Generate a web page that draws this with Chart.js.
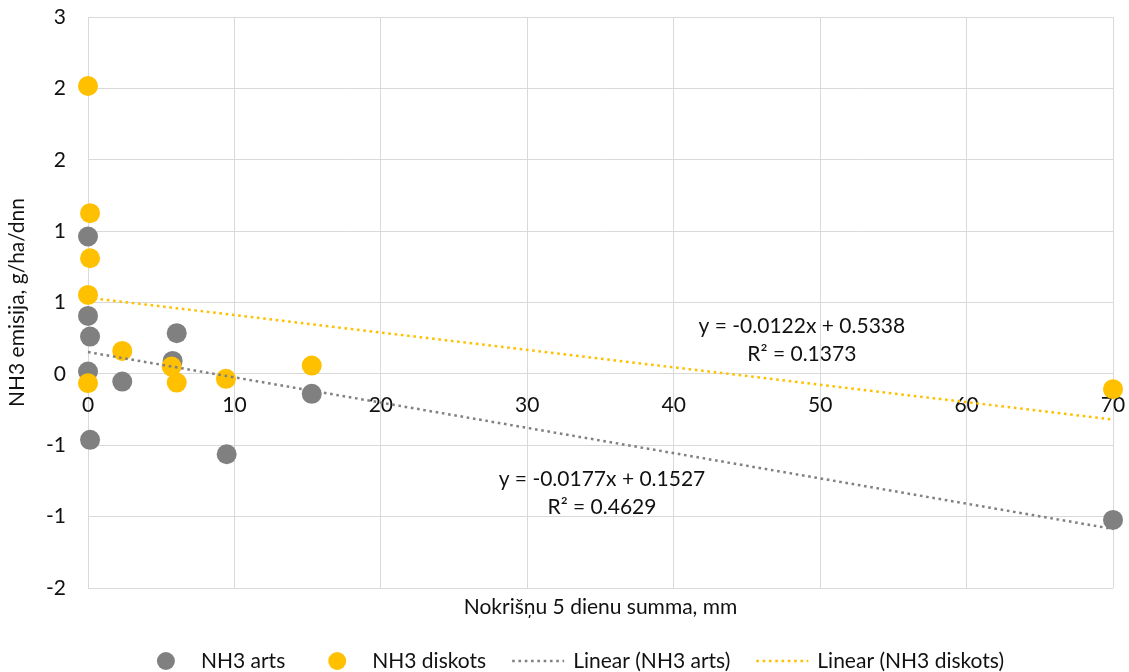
<!DOCTYPE html>
<html>
<head>
<meta charset="utf-8">
<script src="https://cdn.jsdelivr.net/npm/chart.js@4"></script>
<style>
  html, body { margin: 0; padding: 0; background: #ffffff; }
  #wrap { width: 1129px; height: 672px; }
</style>
</head>
<body>
<div id="wrap"><canvas id="chart" width="1129" height="672"></canvas></div>
<script>
// Precipitation over 5 days (mm) and NH3 emission (g/ha/day)
const seriesNames = ['NH3 arts', 'NH3 diskots'];
const artsX = [0, 0, 0.14, 0, 0.14, 2.34, 5.78, 6.06, 9.47, 15.28, 70];
const artsY = [0.962, 0.406, 0.261, 0.016, -0.462, -0.054, 0.091, 0.285, -0.563, -0.14, -1.023];
const diskotsX = [0, 0.14, 0.14, 0, 0, 2.34, 5.71, 6.06, 9.42, 15.28, 70];
const diskotsY = [2.017, 1.126, 0.81, 0.553, -0.065, 0.161, 0.051, -0.061, -0.035, 0.058, -0.107];

// Linear trend lines (slope, intercept, R²)
const trendSlope = [-0.0177, -0.0122];
const trendIntercept = [0.1527, 0.5338];
const trendR2 = ['0.4629', '0.1373'];
const trendRange = [0, 70];

// Axis ticks
const xTicks = [0, 10, 20, 30, 40, 50, 60, 70];
const yTickValues = [-1.5, -1, -0.5, 0, 0.5, 1, 1.5, 2, 2.5];
const yTickLabels = ['-2', '-1', '-1', '0', '1', '1', '2', '2', '3'];

const FONT_FAMILY = 'Lato, "Open Sans", sans-serif';
const FONT_SIZE = 21;
const TEXT_COLOR = '#111111';
const GREY = '#808080';
const GOLD = '#FFC000';
const GRID = '#d9d9d9';

const toPoints = (xs, ys) => xs.map((x, i) => ({ x: x, y: ys[i] }));
const trendPoints = (k) => trendRange.map(x => ({ x: x, y: trendIntercept[k] + trendSlope[k] * x }));
const equationText = (k) => 'y = ' + trendSlope[k] + 'x + ' + trendIntercept[k];

// Equation / R² labels, anchored in data units
const trendLabelPlugin = {
  id: 'trendLabels',
  afterDatasetsDraw(chart) {
    const { ctx, scales } = chart;
    const anchors = [{ x: 35.1, y: -0.834 }, { x: 48.75, y: 0.238 }];
    ctx.save();
    ctx.font = FONT_SIZE + 'px ' + FONT_FAMILY;
    ctx.fillStyle = TEXT_COLOR;
    ctx.textAlign = 'center';
    ctx.textBaseline = 'middle';
    anchors.forEach((a, k) => {
      const px = scales.x.getPixelForValue(a.x);
      const py = scales.y.getPixelForValue(a.y);
      ctx.fillText(equationText(k), px, py - 14);
      ctx.fillText('R² = ' + trendR2[k], px, py + 14);
    });
    ctx.restore();
  }
};

// Legend row along the bottom
const legendPlugin = {
  id: 'bottomLegend',
  afterDraw(chart) {
    const ctx = chart.ctx;
    ctx.save();
    ctx.font = FONT_SIZE + 'px ' + FONT_FAMILY;
    const items = chart.data.datasets.map(ds => ({
      label: ds.label,
      color: ds.showLine ? ds.borderColor : ds.backgroundColor,
      line: !!ds.showLine,
      dash: ds.borderDash || []
    }));
    const box = 52, gap = 9, spacing = 26;
    const widths = items.map(it => box + gap + ctx.measureText(it.label).width);
    const total = widths.reduce((a, b) => a + b, 0) + spacing * (items.length - 1);
    let x = 572 - total / 2;
    const y = 661;
    items.forEach((it, i) => {
      if (it.line) {
        ctx.strokeStyle = it.color;
        ctx.lineWidth = 2.5;
        ctx.setLineDash(it.dash);
        ctx.beginPath();
        ctx.moveTo(x, y);
        ctx.lineTo(x + box, y);
        ctx.stroke();
        ctx.setLineDash([]);
      } else {
        ctx.fillStyle = it.color;
        ctx.beginPath();
        ctx.arc(x + box / 2, y, 9, 0, Math.PI * 2);
        ctx.fill();
      }
      ctx.fillStyle = TEXT_COLOR;
      ctx.textAlign = 'left';
      ctx.textBaseline = 'middle';
      ctx.fillText(it.label, x + box + gap, y);
      x += widths[i] + spacing;
    });
    ctx.restore();
  }
};

const font = { family: FONT_FAMILY, size: FONT_SIZE };

new Chart(document.getElementById('chart'), {
  type: 'scatter',
  data: {
    datasets: [
      {
        label: seriesNames[0],
        data: toPoints(artsX, artsY),
        backgroundColor: GREY,
        borderColor: GREY,
        pointRadius: 10,
        pointBorderWidth: 0,
        order: 2,
        clip: false
      },
      {
        label: seriesNames[1],
        data: toPoints(diskotsX, diskotsY),
        backgroundColor: GOLD,
        borderColor: GOLD,
        pointRadius: 10,
        pointBorderWidth: 0,
        order: 1,
        clip: false
      },
      {
        label: 'Linear (' + seriesNames[0] + ')',
        data: trendPoints(0),
        showLine: true,
        borderColor: GREY,
        borderWidth: 2.5,
        borderDash: [2.6, 3.7],
        pointRadius: 0,
        order: 0,
        clip: false
      },
      {
        label: 'Linear (' + seriesNames[1] + ')',
        data: trendPoints(1),
        showLine: true,
        borderColor: GOLD,
        borderWidth: 2.5,
        borderDash: [2.6, 3.7],
        pointRadius: 0,
        order: 0,
        clip: false
      }
    ]
  },
  options: {
    responsive: false,
    animation: false,
    devicePixelRatio: 1,
    layout: { padding: { top: 17, right: 16, bottom: 44, left: 0 } },
    plugins: {
      legend: { display: false },
      tooltip: { enabled: false }
    },
    scales: {
      x: {
        type: 'linear',
        position: { y: 0 },
        min: 0,
        max: 70,
        afterBuildTicks: (s) => { s.ticks = xTicks.map(v => ({ value: v })); },
        afterFit: (s) => { s.paddingLeft = 0; s.paddingRight = 0; },
        grid: { color: GRID, lineWidth: 1, drawTicks: false },
        border: { display: false },
        ticks: { font: font, color: TEXT_COLOR, padding: 19, maxRotation: 0, autoSkip: false }
      },
      xTitle: {
        type: 'linear',
        axis: 'x',
        position: 'bottom',
        min: 0,
        max: 70,
        afterFit: (s) => { s.height = 40; },
        grid: { display: false },
        border: { display: false },
        ticks: { display: false },
        title: {
          display: true,
          text: 'Nokrišņu 5 dienu summa, mm',
          font: font,
          color: TEXT_COLOR,
          padding: { top: 0, bottom: 8 }
        }
      },
      y: {
        type: 'linear',
        min: -1.5,
        max: 2.5,
        afterBuildTicks: (s) => { s.ticks = yTickValues.map(v => ({ value: v })); },
        afterFit: (s) => { s.width = 88; s.paddingTop = 0; s.paddingBottom = 0; },
        grid: { color: GRID, lineWidth: 1, drawTicks: false },
        border: { display: false },
        ticks: {
          font: font,
          color: TEXT_COLOR,
          padding: 22,
          callback: (v, i) => yTickLabels[i]
        },
        title: {
          display: true,
          text: 'NH3 emisija, g/ha/dnn',
          font: font,
          color: TEXT_COLOR,
          padding: { top: 5, bottom: 0 }
        }
      }
    }
  },
  plugins: [trendLabelPlugin, legendPlugin]
});
</script>
</body>
</html>
